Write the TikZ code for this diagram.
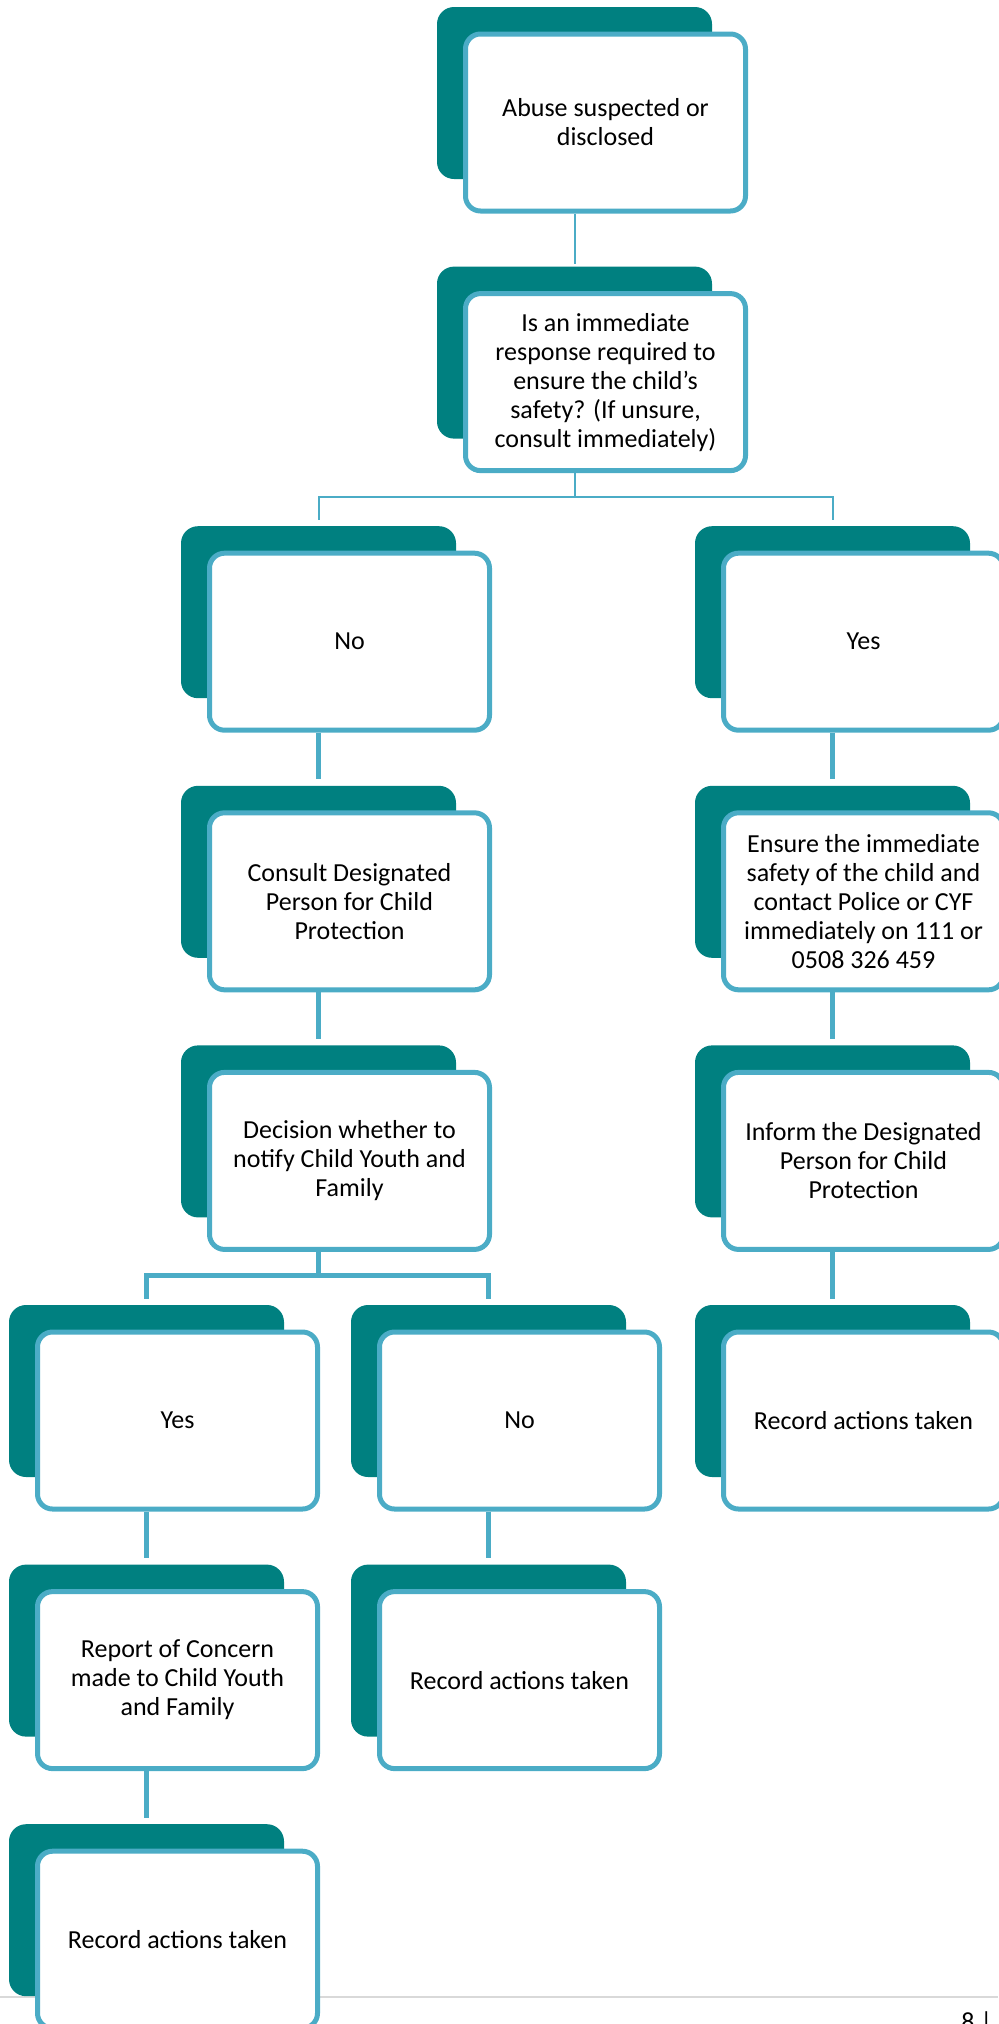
\documentclass[tikz,border=0pt]{standalone}
\usepackage{fontspec}
\setmainfont{Carlito}
\usepackage{tikz}
\usetikzlibrary{positioning}
\definecolor{backteal}{RGB}{0,128,128}
\definecolor{edgeblue}{RGB}{75,172,198}
\definecolor{pagegray}{RGB}{217,217,217}
\tikzstyle{backbox} = [rectangle, rounded corners=8.5pt, fill=backteal, minimum width=137.5pt, minimum height=86pt, inner sep=0pt]
\tikzstyle{textbox} = [rectangle, rounded corners=7.5pt, draw=edgeblue, line width=2.5pt, fill=white, minimum width=140pt, minimum height=88.5pt, inner sep=0pt, align=center, font=\fontsize{13}{14.5}\selectfont]
\tikzstyle{thinline} = [draw=edgeblue, line width=1pt]
\tikzstyle{line} = [draw=edgeblue, line width=2.5pt]

\begin{document}
\begin{tikzpicture}[x=0.5pt, y=-0.5pt]
			\useasboundingbox (0,0) rectangle (998,2024);
			\draw [pagegray, line width=1.2pt] (0,1997) -- (998,1997);
			\node [anchor=base west, inner sep=0pt, font=\fontsize{13}{14.5}\selectfont] (page) at (961,2030) {8 |};
			
			\node [backbox] (abuseback) at (574.5, 93) {};
			\node [textbox] (abuse) at (605.5, 122.5) {Abuse suspected or\\disclosed};
			\node [backbox] (immediateback) at (574.5, 352.6) {};
			\node [textbox] (immediate) at (605.5, 382.1) {Is an immediate\\response required to\\ensure the child’s\\safety? (If unsure,\\consult immediately)};
			
			\node [backbox] (noback) at (318.5, 612.2) {};
			\node [textbox] (no) at (349.5, 641.7) {No};
			\node [backbox] (consultback) at (318.5, 871.8) {};
			\node [textbox] (consult) at (349.5, 901.3) {Consult Designated\\Person for Child\\Protection};
			\node [backbox] (decisionback) at (318.5, 1131.4) {};
			\node [textbox] (decision) at (349.5, 1160.9) {Decision whether to\\notify Child Youth and\\Family};
			
			\node [backbox] (yesback) at (832.5, 612.2) {};
			\node [textbox] (yes) at (863.5, 641.7) {Yes};
			\node [backbox] (ensureback) at (832.5, 871.8) {};
			\node [textbox] (ensure) at (863.5, 901.3) {Ensure the immediate\\safety of the child and\\contact Police or CYF\\immediately on 111 or\\0508 326 459};
			\node [backbox] (informback) at (832.5, 1131.4) {};
			\node [textbox] (inform) at (863.5, 1160.9) {Inform the Designated\\Person for Child\\Protection};
			\node [backbox] (recordrightback) at (832.5, 1391) {};
			\node [textbox] (recordright) at (863.5, 1420.5) {Record actions taken};
			
			\node [backbox] (notifyback) at (146.5, 1391) {};
			\node [textbox] (notify) at (177.5, 1420.5) {Yes};
			\node [backbox] (reportback) at (146.5, 1650.6) {};
			\node [textbox] (report) at (177.5, 1680.1) {Report of Concern\\made to Child Youth\\and Family};
			\node [backbox] (recordleftback) at (146.5, 1910.2) {};
			\node [textbox] (recordleft) at (177.5, 1939.7) {Record actions taken};
			
			\node [backbox] (nonotifyback) at (488.5, 1391) {};
			\node [textbox] (nonotify) at (519.5, 1420.5) {No};
			\node [backbox] (recordmidback) at (488.5, 1650.6) {};
			\node [textbox] (recordmid) at (519.5, 1680.1) {Record actions taken};
			
			\path [thinline] (abuse.south -| abuseback) -- ([yshift=1pt]immediateback.north);
			\path [thinline] (immediate.south -| immediateback) -- ++(0,24) coordinate (fork1);
			\path [thinline] ([yshift=3pt]noback.north) |- (fork1) -| ([yshift=3pt]yesback.north);
			
			\path [line] (no.south -| noback) -- ([yshift=3pt]consultback.north);
			\path [line] (consult.south -| consultback) -- ([yshift=3pt]decisionback.north);
			\path [line] (decision.south -| decisionback) -- ++(0,24) coordinate (fork2);
			\path [line] ([yshift=3pt]notifyback.north) |- (fork2) -| ([yshift=3pt]nonotifyback.north);
			\path [line] (notify.south -| notifyback) -- ([yshift=3pt]reportback.north);
			\path [line] (report.south -| reportback) -- ([yshift=3pt]recordleftback.north);
			\path [line] (nonotify.south -| nonotifyback) -- ([yshift=3pt]recordmidback.north);
			
			\path [line] (yes.south -| yesback) -- ([yshift=3pt]ensureback.north);
			\path [line] (ensure.south -| ensureback) -- ([yshift=3pt]informback.north);
			\path [line] (inform.south -| informback) -- ([yshift=3pt]recordrightback.north);
		\end{tikzpicture}
\end{document}
